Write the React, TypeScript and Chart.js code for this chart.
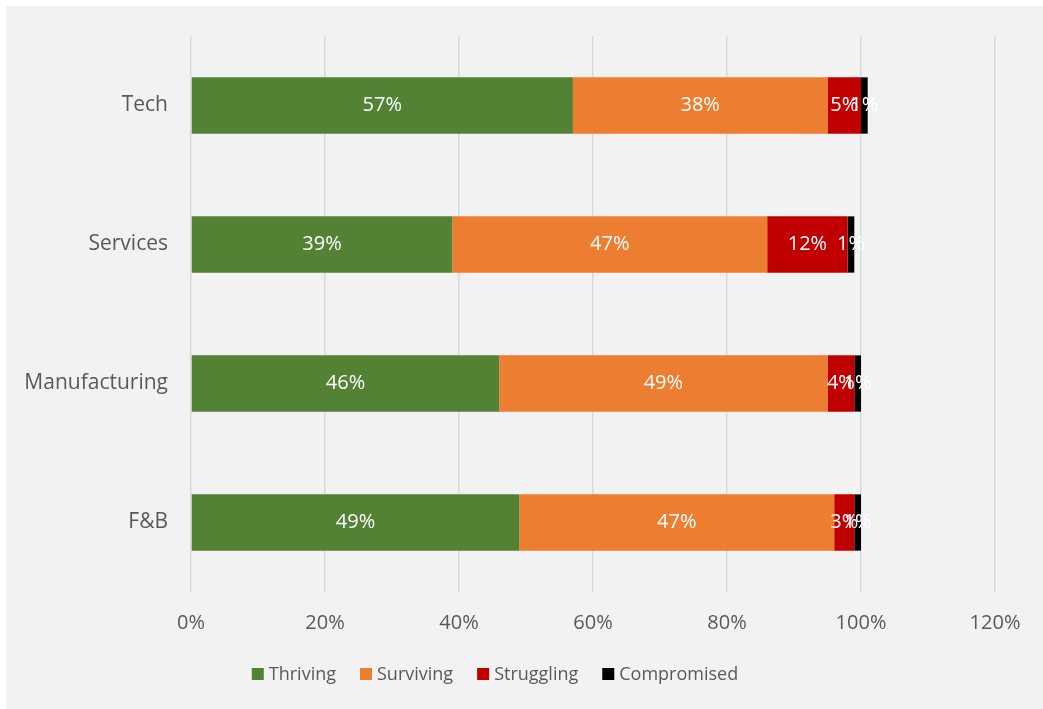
import React, { useEffect, useRef } from "react";
import { Chart, registerables } from "chart.js";

Chart.register(...registerables);

const categories = ["Tech", "Services", "Manufacturing", "F&B"];
const thriving = [57, 39, 46, 49];
const surviving = [38, 47, 49, 47];
const struggling = [5, 12, 4, 3];
const compromised = [1, 1, 1, 1];
const seriesNames = ["Thriving", "Surviving", "Struggling", "Compromised"];
const seriesColors = ["#548235", "#ED7D31", "#C00000", "#000000"];
const xTicks = [0, 20, 40, 60, 80, 100, 120];

const FONT = "'Open Sans'";
const TEXT = "#595959";

const labelPlugin = {
  id: "barLabels",
  afterDatasetsDraw(chart: any) {
    const ctx = chart.ctx;
    ctx.save();
    ctx.font = `20px ${FONT}`;
    ctx.fillStyle = "#FFFFFF";
    ctx.textAlign = "center";
    ctx.textBaseline = "middle";
    chart.data.datasets.forEach((ds: any, di: number) => {
      const meta = chart.getDatasetMeta(di);
      meta.data.forEach((el: any, i: number) => {
        const cx = (el.x + el.base) / 2;
        ctx.fillText(ds.data[i] + "%", cx, el.y);
      });
    });
    ctx.restore();
  },
};

const legendPlugin = {
  id: "customLegend",
  afterDraw(chart: any) {
    const ctx = chart.ctx;
    ctx.save();
    ctx.font = `18px ${FONT}`;
    ctx.textBaseline = "middle";
    ctx.textAlign = "left";
    const box = 12;
    const gapText = 5;
    const gapItem = 24;
    const widths = chart.data.datasets.map((ds: any) => ctx.measureText(ds.label).width);
    const total =
      widths.reduce((a: number, w: number) => a + box + gapText + w, 0) + gapItem * (widths.length - 1);
    const centerX = 489;
    const cy = 668;
    let x = centerX - total / 2;
    chart.data.datasets.forEach((ds: any, i: number) => {
      ctx.fillStyle = ds.backgroundColor;
      ctx.fillRect(x, cy - box / 2, box, box);
      ctx.fillStyle = TEXT;
      ctx.fillText(ds.label, x + box + gapText, cy + 1);
      x += box + gapText + widths[i] + gapItem;
    });
    ctx.restore();
  },
};

export default function App() {
  const ref = useRef<HTMLCanvasElement>(null);
  useEffect(() => {
    document.body.style.margin = "0";
    const datasets = [thriving, surviving, struggling, compromised].map((d, i) => ({
      label: seriesNames[i],
      data: d,
      backgroundColor: seriesColors[i],
      borderWidth: 0,
      barPercentage: 0.405,
      categoryPercentage: 1,
    }));
    const chart = new Chart(ref.current!, {
      type: "bar",
      data: { labels: categories, datasets },
      plugins: [labelPlugin, legendPlugin],
      options: {
        indexAxis: "y",
        animation: false,
        responsive: false,
        maintainAspectRatio: false,
        layout: { padding: { top: 30, right: 48, left: 0, bottom: 57 } },
        scales: {
          x: {
            stacked: true,
            min: 0,
            max: 120,
            afterBuildTicks: (scale: any) => {
              scale.ticks = xTicks.map((v) => ({ value: v }));
            },
            afterFit: (scale: any) => {
              scale.height = 60;
            },
            ticks: {
              callback: (v: any) => v + "%",
              color: TEXT,
              font: { family: FONT, size: 20 },
              padding: 19,
              maxRotation: 0,
            },
            grid: { color: "#D9D9D9", lineWidth: 1.5, drawTicks: false },
            border: { display: false },
          },
          y: {
            stacked: true,
            afterFit: (scale: any) => {
              scale.width = 185;
              scale.paddingTop = 0;
              scale.paddingBottom = 0;
            },
            ticks: {
              color: TEXT,
              font: { family: FONT, size: 21 },
              padding: 23,
            },
            grid: { display: false, drawTicks: false },
            border: { display: false },
          },
        },
        plugins: {
          legend: { display: false },
          tooltip: { enabled: false },
        },
      },
    });
    return () => chart.destroy();
  }, []);
  return (
    <div style={{ position: "fixed", left: 0, top: 0, width: 1043, height: 709, background: "#FFFFFF" }}>
      <div style={{ position: "absolute", left: 6, top: 6, width: 1037, height: 703, background: "#F2F2F2" }}>
        <canvas ref={ref} width={1037} height={703} style={{ display: "block" }} />
      </div>
    </div>
  );
}
